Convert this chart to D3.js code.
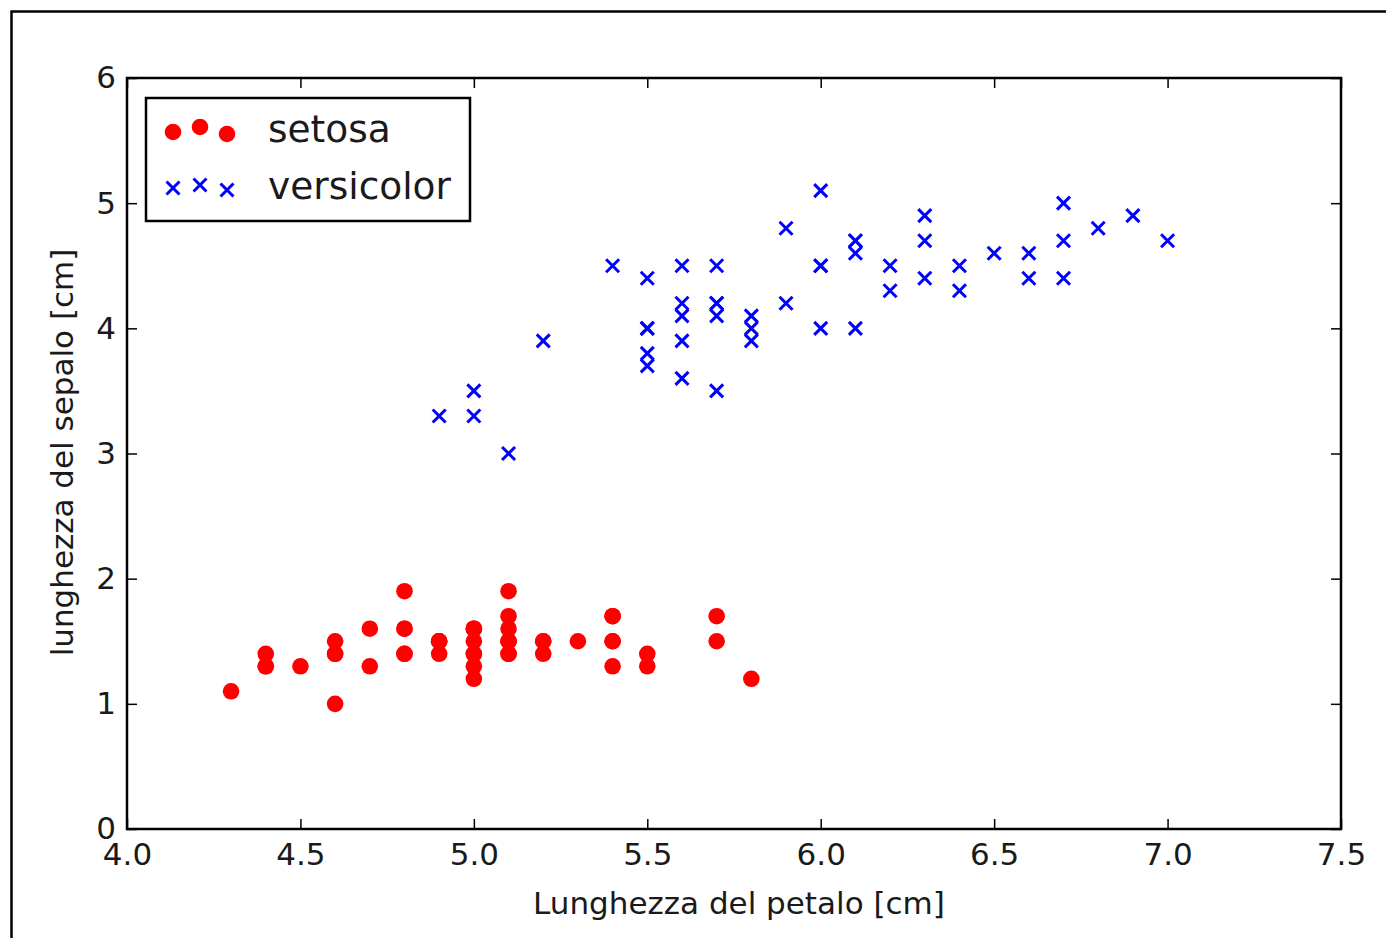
<!DOCTYPE html>
<html>
<head>
<meta charset="utf-8">
<script src="https://cdn.jsdelivr.net/npm/d3@7/dist/d3.min.js"></script>
<style>
  html, body { margin: 0; padding: 0; background: #fff; }
  svg { display: block; font-family: "DejaVu Sans", sans-serif; }
</style>
</head>
<body>
<svg id="chart" width="1386" height="938"></svg>
<script>
// Iris: first 50 setosa and 50 versicolor samples
const setosaX = [5.1,4.9,4.7,4.6,5.0,5.4,4.6,5.0,4.4,4.9,5.4,4.8,4.8,4.3,5.8,5.7,5.4,5.1,5.7,5.1,
                 5.4,5.1,4.6,5.1,4.8,5.0,5.0,5.2,5.2,4.7,4.8,5.4,5.2,5.5,4.9,5.0,5.5,4.9,4.4,5.1,
                 5.0,4.5,4.4,5.0,5.1,4.8,5.1,4.6,5.3,5.0];
const setosaY = [1.4,1.4,1.3,1.5,1.4,1.7,1.4,1.5,1.4,1.5,1.5,1.6,1.4,1.1,1.2,1.5,1.3,1.4,1.7,1.5,
                 1.7,1.5,1.0,1.7,1.9,1.6,1.6,1.5,1.4,1.6,1.6,1.5,1.5,1.4,1.5,1.2,1.3,1.5,1.3,1.5,
                 1.3,1.3,1.3,1.6,1.9,1.4,1.6,1.4,1.5,1.4];
const versicolorX = [7.0,6.4,6.9,5.5,6.5,5.7,6.3,4.9,6.6,5.2,5.0,5.9,6.0,6.1,5.6,6.7,5.6,5.8,6.2,5.6,
                     5.9,6.1,6.3,6.1,6.4,6.6,6.8,6.7,6.0,5.7,5.5,5.5,5.8,6.0,5.4,6.0,6.7,6.3,5.6,5.5,
                     5.5,6.1,5.8,5.0,5.6,5.7,5.7,6.2,5.1,5.7];
const versicolorY = [4.7,4.5,4.9,4.0,4.6,4.5,4.7,3.3,4.6,3.9,3.5,4.2,4.0,4.7,3.6,4.4,4.5,4.1,4.5,3.9,
                     4.8,4.0,4.9,4.7,4.3,4.4,4.8,5.0,4.5,3.5,3.8,3.7,3.9,5.1,4.5,4.5,4.7,4.4,4.1,4.0,
                     4.4,4.6,4.0,3.3,4.2,4.2,4.2,4.3,3.0,4.1];
const xTicks = [4.0,4.5,5.0,5.5,6.0,6.5,7.0,7.5];
const yTicks = [0,1,2,3,4,5,6];
const seriesNames = ["setosa", "versicolor"];
const xTitle = "Lunghezza del petalo [cm]";
const yTitle = "lunghezza del sepalo [cm]";

const svg = d3.select("#chart");
const W = 1386, H = 938;
const m = { left: 127, right: 1341, top: 78, bottom: 829 };

// Outer frame of the figure
svg.append("rect").attr("x", 11.5).attr("y", 11.5).attr("width", W + 20).attr("height", H + 20)
  .attr("fill", "none").attr("stroke", "#000").attr("stroke-width", 2.5);

const x = d3.scaleLinear().domain([4.0, 7.5]).range([m.left, m.right]);
const y = d3.scaleLinear().domain([0, 6]).range([m.bottom, m.top]);

const tickLen = 10;
const fontSize = 31;

// Axes (ticks point inward, on all four sides)
const xBottom = d3.axisBottom(x).tickValues(xTicks).tickSize(-tickLen).tickPadding(14).tickFormat(d3.format(".1f"));
const xTop = d3.axisTop(x).tickValues(xTicks).tickSize(-tickLen).tickFormat("");
const yLeft = d3.axisLeft(y).tickValues(yTicks).tickSize(-tickLen).tickPadding(11).tickFormat(d3.format("d"));
const yRight = d3.axisRight(y).tickValues(yTicks).tickSize(-tickLen).tickFormat("");

function styleAxis(g) {
  g.select(".domain").remove();
  g.selectAll(".tick line").attr("stroke", "#000").attr("stroke-width", 1.5);
  g.selectAll(".tick text").attr("fill", "#1a1a1a").attr("font-size", fontSize)
    .attr("font-family", "'DejaVu Sans', sans-serif");
}
svg.append("g").attr("transform", `translate(0,${m.bottom})`).call(xBottom).call(styleAxis);
svg.append("g").attr("transform", `translate(0,${m.top})`).call(xTop).call(styleAxis);
svg.append("g").attr("transform", `translate(${m.left},0)`).call(yLeft).call(styleAxis);
svg.append("g").attr("transform", `translate(${m.right},0)`).call(yRight).call(styleAxis);

// Plot box
svg.append("rect").attr("x", m.left).attr("y", m.top)
  .attr("width", m.right - m.left).attr("height", m.bottom - m.top)
  .attr("fill", "none").attr("stroke", "#000").attr("stroke-width", 2.5);

// Marks
const r = 8.3;
const xs = 6.5;
function cross(g, cx, cy) {
  g.append("path")
    .attr("d", `M${cx - xs},${cy - xs}L${cx + xs},${cy + xs}M${cx - xs},${cy + xs}L${cx + xs},${cy - xs}`)
    .attr("stroke", "#0000ff").attr("stroke-width", 3).attr("fill", "none");
}

svg.append("g").selectAll("circle").data(d3.range(setosaX.length)).join("circle")
  .attr("cx", i => x(setosaX[i])).attr("cy", i => y(setosaY[i])).attr("r", r)
  .attr("fill", "#ff0000");

const vg = svg.append("g");
versicolorX.forEach((v, i) => cross(vg, x(v), y(versicolorY[i])));

// Legend
const lg = svg.append("g");
lg.append("rect").attr("x", 146).attr("y", 98).attr("width", 324).attr("height", 123)
  .attr("fill", "#fff").attr("stroke", "#000").attr("stroke-width", 2.5);
const legendDX = [173, 200, 227];
const legendJitter = [2, -3, 4];
legendDX.forEach((lx, k) => {
  lg.append("circle").attr("cx", lx).attr("cy", 130 + legendJitter[k]).attr("r", r).attr("fill", "#ff0000");
  cross(lg, lx, 187 + [1, -2, 3][k]);
});
lg.append("text").attr("x", 268).attr("y", 142).attr("font-size", 37.5).attr("fill", "#1a1a1a").text(seriesNames[0]);
lg.append("text").attr("x", 268).attr("y", 199).attr("font-size", 37.5).attr("fill", "#1a1a1a").text(seriesNames[1]);

// Axis titles
svg.append("text").attr("x", (m.left + m.right) / 2 + 5).attr("y", 914)
  .attr("text-anchor", "middle").attr("font-size", fontSize).attr("fill", "#1a1a1a").text(xTitle);
svg.append("text").attr("transform", `translate(73,${(m.top + m.bottom) / 2 - 1}) rotate(-90)`)
  .attr("text-anchor", "middle").attr("font-size", fontSize).attr("fill", "#1a1a1a").text(yTitle);
</script>
</body>
</html>
